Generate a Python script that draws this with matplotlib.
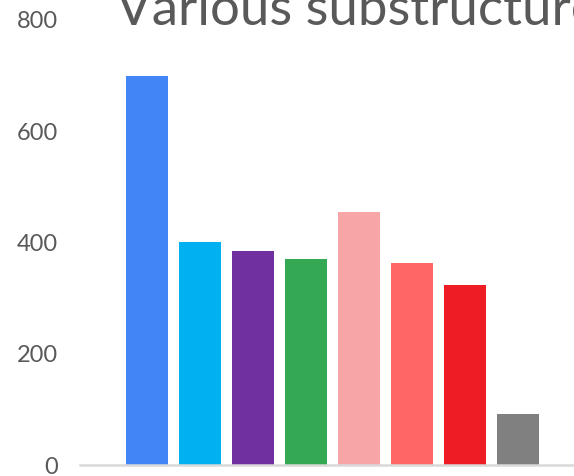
import matplotlib
matplotlib.use("Agg")
import matplotlib.pyplot as plt

plt.rcParams['font.family'] = ['Lato', 'DejaVu Sans']

# substructure counts
categories = ['A', 'B', 'C', 'D', 'E', 'F', 'G', 'H']
counts = [700, 401, 384, 371, 455, 364, 324, 91]
colors = ['#4285F4', '#00B0F0', '#7030A0', '#34A853',
          '#F8A5A7', '#FF6666', '#EE1C25', '#808080']

fig = plt.figure(figsize=(5.74, 4.76), dpi=100)
ax = fig.add_axes([80 / 574, 11 / 476, 1 - 80 / 574, 445 / 476])

x = range(len(categories))
ax.bar(x, counts, width=0.79, color=colors)

ax.set_ylim(0, 800)
ax.set_yticks([0, 200, 400, 600, 800])
ax.set_xlim(-67 / 53, (574 - 147) / 53)
ax.set_xticks([])

for s in ['top', 'right', 'left']:
    ax.spines[s].set_visible(False)
ax.spines['bottom'].set_color('#d9d9d9')
ax.spines['bottom'].set_linewidth(1.8)

ax.tick_params(axis='y', length=0, pad=16, labelsize=17, labelcolor='#595959')

fig.text(116 / 574, 1 - 25 / 476, 'Various substructures', ha='left', va='baseline',
         fontsize=38, color='#595959')

fig.savefig('out.png', dpi=100)
